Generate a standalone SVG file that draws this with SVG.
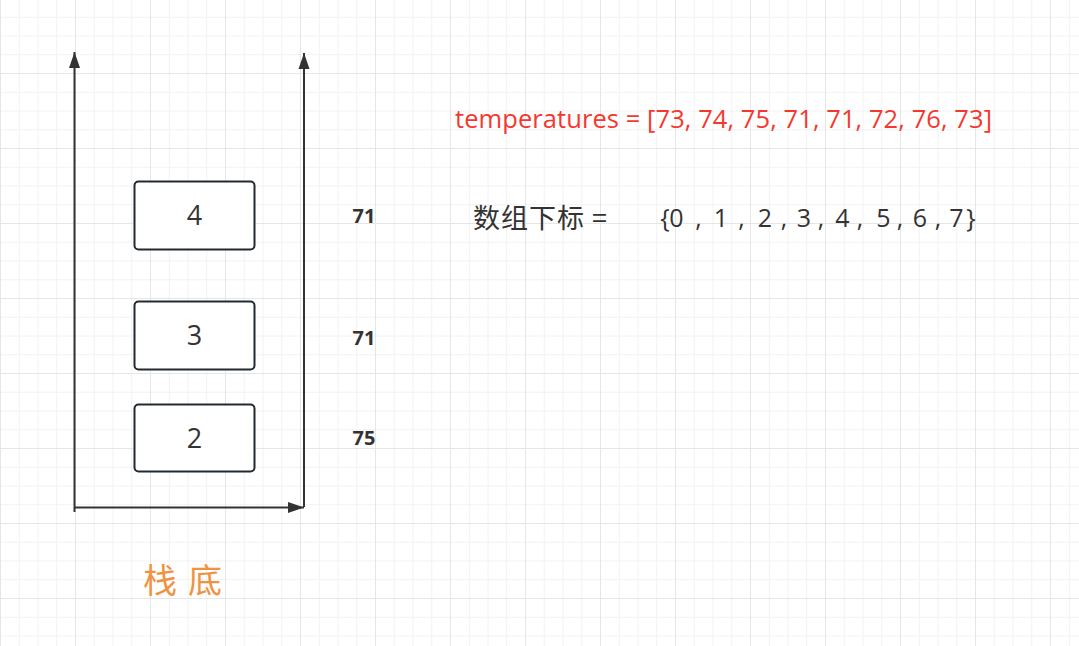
<svg xmlns="http://www.w3.org/2000/svg" width="1079" height="646" viewBox="0 0 1079 646">
  <defs>
    <pattern id="grid" patternUnits="userSpaceOnUse" x="0" y="-2" width="75" height="75">
      <path d="M19.25 0V75M38 0V75M56.75 0V75M0 19.25H75M0 38H75M0 56.75H75" stroke="#f2f2f2" stroke-width="1" fill="none"/>
      <path d="M0.5 0V75M0 0.5H75" stroke="#e6e6e6" stroke-width="1" fill="none"/>
    </pattern>
    <marker id="arr" markerUnits="userSpaceOnUse" markerWidth="16" markerHeight="12" refX="16" refY="6" orient="auto">
      <path d="M0 0.5L16 6L0 11.5Z" fill="#333333"/>
    </marker>
    <style>
      .box{fill:#ffffff;stroke:#222a31;stroke-width:2}
      .num{font-family:"Open Sans","Liberation Sans",sans-serif;font-size:27px;fill:#333333;text-anchor:middle}
      .val{font-family:"Open Sans","Liberation Sans",sans-serif;font-size:20px;font-weight:bold;fill:#333333;text-anchor:middle}
      .line{stroke:#333333;stroke-width:2;fill:none}
    </style>
  </defs>
  <rect width="1079" height="646" fill="#ffffff"/>
  <rect width="1079" height="646" fill="url(#grid)"/>

  <g id="connectors">
    <path class="line" d="M74.5 512V52" marker-end="url(#arr)"/>
    <path class="line" d="M304 507V53" marker-end="url(#arr)"/>
    <path class="line" d="M75 507.5H304" marker-end="url(#arr)"/>
  </g>

  <g id="node-4">
    <rect class="box" x="134.5" y="181.5" width="120" height="68" rx="4"/>
    <text class="num" x="194.5" y="225">4</text>
  </g>
  <g id="node-3">
    <rect class="box" x="134.5" y="301.5" width="120" height="68" rx="4"/>
    <text class="num" x="194.5" y="345">3</text>
  </g>
  <g id="node-2">
    <rect class="box" x="134.5" y="404.5" width="120" height="67" rx="4"/>
    <text class="num" x="194.5" y="448">2</text>
  </g>

  <g id="values">
    <text class="val" x="364" y="223">71</text>
    <text class="val" x="364" y="345">71</text>
    <text class="val" x="364" y="445">75</text>
  </g>

  <g id="temperatures">
    <text x="455" y="128" font-family="'Open Sans','Liberation Sans',sans-serif" font-size="25.5" fill="#f5382f" textLength="537" lengthAdjust="spacing">temperatures = [73, 74, 75, 71, 71, 72, 76, 73]</text>
  </g>

  <g id="indices">
    <text x="473" y="228" font-family="'Noto Sans CJK SC',sans-serif" font-size="27" fill="#333333" textLength="134" lengthAdjust="spacing">数组下标 =</text>
    <text y="227" font-family="'Open Sans','Liberation Sans',sans-serif" font-size="25" fill="#333333" text-anchor="middle"><tspan x="665">{</tspan><tspan x="676.5">0</tspan><tspan x="698.5">,</tspan><tspan x="721">1</tspan><tspan x="741.5">,</tspan><tspan x="765">2</tspan><tspan x="784">,</tspan><tspan x="804">3</tspan><tspan x="821">,</tspan><tspan x="842.5">4</tspan><tspan x="860">,</tspan><tspan x="883.5">5</tspan><tspan x="900">,</tspan><tspan x="920">6</tspan><tspan x="938">,</tspan><tspan x="956.5">7</tspan><tspan x="971">}</tspan></text>
  </g>

  <g id="stack-bottom">
    <text x="143" y="593" font-family="'Noto Sans CJK SC',sans-serif" font-size="34" fill="#ef9340" textLength="79" lengthAdjust="spacing">栈 底</text>
  </g>
</svg>
